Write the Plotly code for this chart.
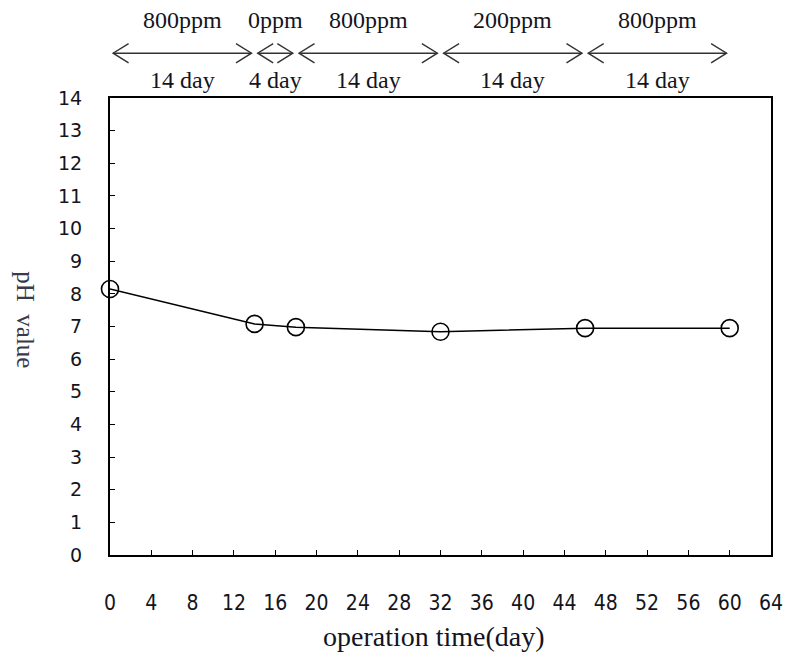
import plotly.graph_objects as go

# Data
days = [0, 14, 18, 32, 46, 60]
ph = [8.15, 7.08, 6.98, 6.84, 6.95, 6.95]

# Operation phases
phase_bounds = [0, 14, 18, 32, 46, 60]
phase_conc = ["800ppm", "0ppm", "800ppm", "200ppm", "800ppm"]
phase_len = ["14 day", "4 day", "14 day", "14 day", "14 day"]

x_ticks = list(range(0, 65, 4))
y_ticks = list(range(0, 15, 1))

fig = go.Figure()
fig.add_trace(go.Scatter(
    x=days, y=ph, mode="lines+markers",
    line=dict(color="black", width=1.5),
    marker=dict(symbol="circle-open", size=17, color="black", line=dict(width=1.6)),
    cliponaxis=False, showlegend=False,
))

serif = "Liberation Serif, Times New Roman, serif"
txtcol = "#141420"

annotations = []
shapes = []
y_arrow = 1.098
head_dx = 1.5   # in days
head_dy = 0.021  # in paper units
for i in range(len(phase_conc)):
    a, b = phase_bounds[i], phase_bounds[i + 1]
    mid = (a + b) / 2
    annotations.append(dict(x=mid, y=1.170, xref="x", yref="paper", text=phase_conc[i],
                            showarrow=False, yanchor="middle", xanchor="center",
                            font=dict(family=serif, size=24, color=txtcol)))
    annotations.append(dict(x=mid, y=1.039, xref="x", yref="paper", text=phase_len[i],
                            showarrow=False, yanchor="middle", xanchor="center",
                            font=dict(family=serif, size=24, color=txtcol)))
    xa = a + 0.3
    xb = b - 0.3
    shapes.append(dict(type="line", xref="x", yref="paper", x0=xa, x1=xb, y0=y_arrow, y1=y_arrow,
                       line=dict(color="#333", width=1.6)))
    shapes.append(dict(type="path", xref="x", yref="paper",
                       path=f"M {xa+head_dx},{y_arrow+head_dy} L {xa},{y_arrow} L {xa+head_dx},{y_arrow-head_dy}",
                       line=dict(color="#333", width=1.4)))
    shapes.append(dict(type="path", xref="x", yref="paper",
                       path=f"M {xb-head_dx},{y_arrow+head_dy} L {xb},{y_arrow} L {xb-head_dx},{y_arrow-head_dy}",
                       line=dict(color="#333", width=1.4)))

annotations.append(dict(x=-0.128, y=0.515, xref="paper", yref="paper", text="pH  value",
                        textangle=90, showarrow=False, xanchor="center", yanchor="middle",
                        font=dict(family=serif, size=25, color="#3a3a4a")))
annotations.append(dict(x=0.49, y=-0.179, xref="paper", yref="paper", text="operation time(day)",
                        showarrow=False, yanchor="middle", xanchor="center",
                        font=dict(family=serif, size=28, color=txtcol)))

fig.update_layout(
    width=795, height=657,
    margin=dict(l=110, r=12, t=98, b=102),
    paper_bgcolor="white", plot_bgcolor="white",
    annotations=annotations, shapes=shapes,
    xaxis=dict(range=[0, 64], tickvals=x_ticks, ticks="inside", ticklen=5, tickwidth=1,
               tickcolor="black", showline=True, linecolor="black", linewidth=2, mirror=True,
               showgrid=False, zeroline=False, ticklabelstandoff=28,
               tickfont=dict(family="Liberation Sans Narrow, DejaVu Sans Condensed, sans-serif", size=21, color=txtcol)),
    yaxis=dict(range=[0, 14], tickvals=y_ticks, ticks="inside", ticklen=5, tickwidth=1,
               tickcolor="black", showline=True, linecolor="black", linewidth=2, mirror=True,
               showgrid=False, zeroline=False, ticklabelstandoff=22,
               tickfont=dict(family="DejaVu Sans, Verdana, sans-serif", size=19, color=txtcol)),
)

fig.write_html("out.html")
